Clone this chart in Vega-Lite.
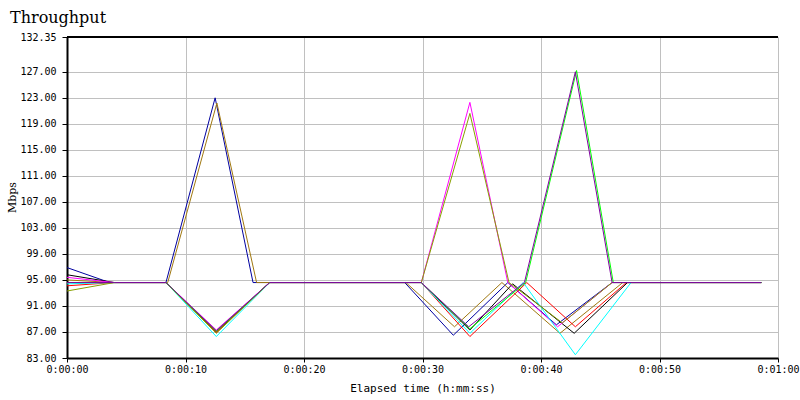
{
  "$schema": "https://vega.github.io/schema/vega-lite/v6.json",
  "autosize": "none",
  "width": 711,
  "height": 321,
  "padding": {"left": 67, "top": 37, "right": 22, "bottom": 42},
  "background": "white",
  "title": {"text": "Throughput", "anchor": "start", "frame": "group", "dx": -57, "offset": 6, "font": "DejaVu Serif", "fontSize": 16, "fontWeight": "normal", "color": "#000"},
  "config": {
    "view": {"stroke": null},
    "axis": {"gridColor": "#c0c0c0", "gridWidth": 1, "gridOpacity": 1, "domainColor": "#000", "domainWidth": 2, "tickColor": "#000", "labelFont": "DejaVu Sans Mono", "labelFontSize": 10, "labelColor": "#000", "labelOverlap": false, "labelFlush": false, "titleFont": "DejaVu Sans Mono", "titleFontSize": 11, "titleFontWeight": "normal", "titleColor": "#000"}
  },
  "layer": [
    {
      "data": {"values": [
        {"pair": "p1", "time": 0, "mbps": 96.9}, {"pair": "p1", "time": 3.6, "mbps": 94.6}, {"pair": "p1", "time": 8.35, "mbps": 94.6}, {"pair": "p1", "time": 12.5, "mbps": 123.0}, {"pair": "p1", "time": 15.7, "mbps": 94.6}, {"pair": "p1", "time": 28.5, "mbps": 94.6}, {"pair": "p1", "time": 32.6, "mbps": 86.5}, {"pair": "p1", "time": 37.2, "mbps": 94.6}, {"pair": "p1", "time": 41.3, "mbps": 88.1}, {"pair": "p1", "time": 46.0, "mbps": 94.6}, {"pair": "p1", "time": 58.6, "mbps": 94.6},
        {"pair": "p2", "time": 0, "mbps": 95.0}, {"pair": "p2", "time": 4, "mbps": 94.6}, {"pair": "p2", "time": 8.5, "mbps": 94.6}, {"pair": "p2", "time": 12.65, "mbps": 122.2}, {"pair": "p2", "time": 16.0, "mbps": 94.6}, {"pair": "p2", "time": 28.6, "mbps": 94.6}, {"pair": "p2", "time": 32.7, "mbps": 87.8}, {"pair": "p2", "time": 36.7, "mbps": 94.6}, {"pair": "p2", "time": 41.6, "mbps": 86.8}, {"pair": "p2", "time": 46.9, "mbps": 94.6}, {"pair": "p2", "time": 58.6, "mbps": 94.6},
        {"pair": "p3", "time": 0, "mbps": 95.8}, {"pair": "p3", "time": 4, "mbps": 94.6}, {"pair": "p3", "time": 8.35, "mbps": 94.6}, {"pair": "p3", "time": 12.6, "mbps": 87.0}, {"pair": "p3", "time": 17.1, "mbps": 94.6}, {"pair": "p3", "time": 29.9, "mbps": 94.6}, {"pair": "p3", "time": 34.0, "mbps": 87.3}, {"pair": "p3", "time": 37.6, "mbps": 94.4}, {"pair": "p3", "time": 42.8, "mbps": 86.8}, {"pair": "p3", "time": 47.3, "mbps": 94.6}, {"pair": "p3", "time": 58.6, "mbps": 94.6},
        {"pair": "p4", "time": 0, "mbps": 95.4}, {"pair": "p4", "time": 4, "mbps": 94.6}, {"pair": "p4", "time": 8.35, "mbps": 94.6}, {"pair": "p4", "time": 12.6, "mbps": 87.3}, {"pair": "p4", "time": 17.1, "mbps": 94.6}, {"pair": "p4", "time": 29.9, "mbps": 94.6}, {"pair": "p4", "time": 34.0, "mbps": 122.3}, {"pair": "p4", "time": 37.2, "mbps": 94.6}, {"pair": "p4", "time": 41.4, "mbps": 87.8}, {"pair": "p4", "time": 46.0, "mbps": 94.6}, {"pair": "p4", "time": 58.6, "mbps": 94.6},
        {"pair": "p5", "time": 0, "mbps": 94.1}, {"pair": "p5", "time": 4, "mbps": 94.6}, {"pair": "p5", "time": 8.35, "mbps": 94.6}, {"pair": "p5", "time": 12.6, "mbps": 86.9}, {"pair": "p5", "time": 17.1, "mbps": 94.6}, {"pair": "p5", "time": 29.9, "mbps": 94.6}, {"pair": "p5", "time": 34.0, "mbps": 86.3}, {"pair": "p5", "time": 38.8, "mbps": 94.6}, {"pair": "p5", "time": 42.9, "mbps": 87.8}, {"pair": "p5", "time": 47.2, "mbps": 94.6}, {"pair": "p5", "time": 58.6, "mbps": 94.6},
        {"pair": "p6", "time": 0, "mbps": 94.4}, {"pair": "p6", "time": 4, "mbps": 94.6}, {"pair": "p6", "time": 8.35, "mbps": 94.6}, {"pair": "p6", "time": 12.6, "mbps": 86.3}, {"pair": "p6", "time": 17.1, "mbps": 94.6}, {"pair": "p6", "time": 29.9, "mbps": 94.6}, {"pair": "p6", "time": 34.0, "mbps": 86.8}, {"pair": "p6", "time": 38.5, "mbps": 94.6}, {"pair": "p6", "time": 42.9, "mbps": 83.5}, {"pair": "p6", "time": 47.6, "mbps": 94.6}, {"pair": "p6", "time": 58.6, "mbps": 94.6},
        {"pair": "p7", "time": 0, "mbps": 93.3}, {"pair": "p7", "time": 4, "mbps": 94.6}, {"pair": "p7", "time": 8.35, "mbps": 94.6}, {"pair": "p7", "time": 12.6, "mbps": 86.8}, {"pair": "p7", "time": 17.1, "mbps": 94.6}, {"pair": "p7", "time": 29.9, "mbps": 94.6}, {"pair": "p7", "time": 34.0, "mbps": 120.6}, {"pair": "p7", "time": 37.3, "mbps": 94.6}, {"pair": "p7", "time": 41.8, "mbps": 88.4}, {"pair": "p7", "time": 46.0, "mbps": 94.6}, {"pair": "p7", "time": 58.6, "mbps": 94.6},
        {"pair": "p8", "time": 0, "mbps": 94.6}, {"pair": "p8", "time": 4, "mbps": 94.6}, {"pair": "p8", "time": 8.35, "mbps": 94.6}, {"pair": "p8", "time": 12.6, "mbps": 87.1}, {"pair": "p8", "time": 17.1, "mbps": 94.6}, {"pair": "p8", "time": 29.9, "mbps": 94.6}, {"pair": "p8", "time": 34.0, "mbps": 87.5}, {"pair": "p8", "time": 38.7, "mbps": 94.6}, {"pair": "p8", "time": 43.0, "mbps": 127.2}, {"pair": "p8", "time": 46.1, "mbps": 94.6}, {"pair": "p8", "time": 58.6, "mbps": 94.6},
        {"pair": "p9", "time": 0, "mbps": 94.6}, {"pair": "p9", "time": 4, "mbps": 94.6}, {"pair": "p9", "time": 8.35, "mbps": 94.6}, {"pair": "p9", "time": 12.6, "mbps": 87.2}, {"pair": "p9", "time": 17.1, "mbps": 94.6}, {"pair": "p9", "time": 29.9, "mbps": 94.6}, {"pair": "p9", "time": 33.9, "mbps": 87.8}, {"pair": "p9", "time": 38.6, "mbps": 94.6}, {"pair": "p9", "time": 42.9, "mbps": 127.0}, {"pair": "p9", "time": 46.0, "mbps": 94.6}, {"pair": "p9", "time": 58.6, "mbps": 94.6}
      ]},
      "mark": {"type": "line", "strokeWidth": 1, "clip": true},
      "encoding": {
        "x": {"field": "time", "type": "quantitative", "scale": {"domain": [0, 60], "nice": false, "zero": false},
              "axis": {"values": [0, 10, 20, 30, 40, 50, 60], "tickCount": 30, "tickSize": 4, "labelPadding": 2, "title": "Elapsed time (h:mm:ss)", "titleY": 30, "titleBaseline": "middle",
                       "labelExpr": "'0:' + (floor(datum.value/60) < 10 ? '0' : '') + floor(datum.value/60) + ':' + (datum.value%60 < 10 ? '0' : '') + (datum.value%60)"}},
        "y": {"field": "mbps", "type": "quantitative", "scale": {"domain": [83, 132.35], "nice": false, "zero": false},
              "axis": {"values": [83, 87, 91, 95, 99, 103, 107, 111, 115, 119, 123, 127, 132.35], "tickCount": 30, "format": ".2f", "tickSize": 5, "labelPadding": 6, "title": "Mbps", "titleX": -55, "titleY": 160, "titleAngle": -90, "titleAlign": "center", "titleBaseline": "middle", "titleFont": "DejaVu Serif"}},
        "color": {"field": "pair", "type": "nominal", "legend": null,
                  "scale": {"domain": ["p1", "p2", "p3", "p4", "p5", "p6", "p7", "p8", "p9"], "range": ["#0000a0", "#a07810", "#000000", "#ff00ff", "#ff0000", "#00ffff", "#88a000", "#00ff00", "#8000a0"]}},
        "order": {"field": "time", "type": "quantitative"}
      }
    },
    {
      "data": {"values": [{"top": 132.35}]},
      "mark": {"type": "rule", "color": "#000", "strokeWidth": 2},
      "encoding": {"y": {"field": "top", "type": "quantitative"}}
    }
  ]
}
